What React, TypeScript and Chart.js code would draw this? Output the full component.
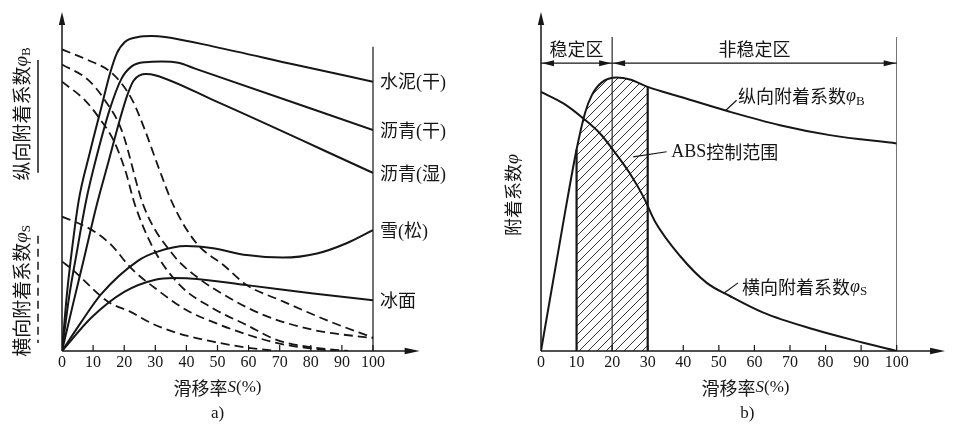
import React, { useEffect, useRef } from 'react';
import { Chart, registerables } from 'chart.js';

Chart.register(...registerables);

// ---------------- panel a) : adhesion curves on different surfaces ----------------
const slipTicks = [0, 10, 20, 30, 40, 50, 60, 70, 80, 90, 100];

// longitudinal adhesion coefficient (solid)
const concreteDryLongS = [0, 1.4, 2.8, 5.4, 8.9, 12.6, 15.5, 17.6, 20.3, 24.5, 28.8, 33.1, 49.2, 75, 100];
const concreteDryLongPhi = [0, 0.16, 0.285, 0.472, 0.618, 0.76, 0.87, 0.93, 0.967, 0.982, 0.985, 0.982, 0.951, 0.895, 0.842];
const asphaltDryLongS = [0, 2.3, 4.6, 7.8, 11.4, 15.3, 19.1, 22.4, 26.7, 32, 37.4, 42.8, 100];
const asphaltDryLongPhi = [0, 0.17, 0.3, 0.472, 0.618, 0.754, 0.851, 0.89, 0.903, 0.905, 0.901, 0.883, 0.691];
const asphaltWetLongS = [0, 3.5, 7.1, 11, 14.9, 18.5, 21, 23, 25, 27, 29.9, 49.2, 100];
const asphaltWetLongPhi = [0, 0.145, 0.29, 0.45, 0.59, 0.72, 0.8, 0.845, 0.862, 0.866, 0.8625, 0.782, 0.557];
const snowLongS = [0, 6, 12.6, 24.4, 30.5, 40, 48.6, 59.4, 71, 82, 91.5, 100];
const snowLongPhi = [0, 0.088, 0.178, 0.282, 0.31, 0.328, 0.321, 0.3, 0.292, 0.305, 0.337, 0.378];
const iceLongS = [0, 9.4, 20, 30, 36, 41, 59.4, 80.8, 100];
const iceLongPhi = [0, 0.104, 0.185, 0.223, 0.228, 0.227, 0.206, 0.18, 0.159];

// lateral adhesion coefficient (dashed)
const concreteDryLatS = [0, 8.5, 14.9, 19.2, 22.9, 26.7, 31, 35.8, 43.3, 51.9, 59.4, 70.1, 86.2, 100];
const concreteDryLatPhi = [0.943, 0.909, 0.878, 0.836, 0.779, 0.69, 0.575, 0.456, 0.336, 0.269, 0.206, 0.159, 0.092, 0.042];
const asphaltDryLatS = [0, 8.5, 13.8, 19.2, 26.3, 35.8, 43.3, 54, 64.7, 80.8, 100];
const asphaltDryLatPhi = [0.896, 0.847, 0.784, 0.69, 0.452, 0.3, 0.232, 0.165, 0.113, 0.066, 0.04];
const asphaltWetLatS = [0, 7.4, 11.7, 16.5, 20.3, 23.5, 29.4, 37.9, 48.6, 59.4, 69, 80, 92];
const asphaltWetLatPhi = [0.842, 0.784, 0.732, 0.66, 0.566, 0.456, 0.32, 0.206, 0.133, 0.081, 0.035, 0.012, 0];
const snowLatS = [0, 3, 10.5, 15.9, 22.3, 30, 40, 50, 60, 70, 80, 88];
const snowLatPhi = [0.42, 0.409, 0.373, 0.331, 0.258, 0.196, 0.128, 0.085, 0.05, 0.023, 0.008, 0];
const iceLatS = [0, 3.5, 14.8, 21.9, 28.7, 32.6, 40, 48.6, 60, 69];
const iceLatPhi = [0.28, 0.253, 0.154, 0.123, 0.087, 0.071, 0.048, 0.029, 0.01, 0];

const surfaceLabels = ['水泥(干)', '沥青(干)', '沥青(湿)', '雪(松)', '冰面'];

// ---------------- panel b) : ABS working range ----------------
const longS = [0, 6, 10, 12.4, 14.3, 17.1, 21.3, 25, 30, 39.1, 53.1, 67.2, 81.2, 100];
const longPhi = [0, 0.385, 0.63, 0.745, 0.8, 0.84, 0.855, 0.849, 0.826, 0.795, 0.748, 0.706, 0.675, 0.649];
const latS = [0, 6.3, 11.9, 16.6, 20.3, 25, 28.8, 32, 39.1, 46.6, 53.1, 62.5, 76.6, 90.6, 100];
const latPhi = [0.81, 0.774, 0.727, 0.68, 0.628, 0.555, 0.482, 0.406, 0.297, 0.213, 0.172, 0.12, 0.068, 0.026, 0];
const absRange = [10, 30];
const stableLimit = 20;

// ---------------- layout constants ----------------
const PHI_MAX = 1.06;
const INK = '#161616';
const CJK = '"Noto Sans CJK SC", sans-serif';
const SER = '"Liberation Serif", "Noto Sans CJK SC", serif';

type Part = { t: string; f: string; dy?: number };
type Pt = { x: number; y: number };

const toPts = (xs: number[], ys: number[]): Pt[] => xs.map((x, i) => ({ x, y: ys[i] }));

function partsWidth(ctx: CanvasRenderingContext2D, parts: Part[]) {
  let w = 0;
  for (const p of parts) {
    ctx.font = p.f;
    w += ctx.measureText(p.t).width;
  }
  return w;
}
function drawParts(ctx: CanvasRenderingContext2D, parts: Part[], x: number, y: number, align = 'left') {
  const w = partsWidth(ctx, parts);
  let cx = align === 'center' ? x - w / 2 : align === 'right' ? x - w : x;
  ctx.textAlign = 'left';
  ctx.textBaseline = 'middle';
  for (const p of parts) {
    ctx.font = p.f;
    ctx.fillText(p.t, cx, y + (p.dy || 0));
    cx += ctx.measureText(p.t).width;
  }
}
function drawPartsRotated(ctx: CanvasRenderingContext2D, parts: Part[], x: number, y: number) {
  ctx.save();
  ctx.translate(x, y);
  ctx.rotate(-Math.PI / 2);
  drawParts(ctx, parts, 0, 0, 'center');
  ctx.restore();
}
function segment(ctx: CanvasRenderingContext2D, x1: number, y1: number, x2: number, y2: number, w = 1, dash: number[] = []) {
  ctx.save();
  ctx.lineWidth = w;
  ctx.setLineDash(dash);
  ctx.beginPath();
  ctx.moveTo(x1, y1);
  ctx.lineTo(x2, y2);
  ctx.stroke();
  ctx.restore();
}
function arrowHead(ctx: CanvasRenderingContext2D, tx: number, ty: number, dx: number, dy: number, len = 12, half = 3.2) {
  const nx = -dy, ny = dx;
  const bx = tx - dx * len, by = ty - dy * len;
  ctx.beginPath();
  ctx.moveTo(tx, ty);
  ctx.lineTo(bx + nx * half, by + ny * half);
  ctx.lineTo(bx - nx * half, by - ny * half);
  ctx.closePath();
  ctx.fill();
}
function drawAxes(ctx: CanvasRenderingContext2D, x0: number, y0: number, yTop: number, xEnd: number) {
  segment(ctx, x0, y0, x0, yTop + 6, 1.5);
  arrowHead(ctx, x0, yTop, 0, -1, 13, 3.2);
  segment(ctx, x0, y0, xEnd - 6, y0, 1.5);
  arrowHead(ctx, xEnd, y0, 1, 0, 15, 3.2);
}
function drawTicks(ctx: CanvasRenderingContext2D, X: (v: number) => number, y0: number) {
  slipTicks.forEach((v) => {
    if (v > 0) segment(ctx, X(v), y0, X(v), y0 - 6, 1.2);
  });
  ctx.font = `16px ${SER}`;
  ctx.textAlign = 'center';
  ctx.textBaseline = 'middle';
  slipTicks.forEach((v) => ctx.fillText(String(v), X(v), y0 + 12));
}
function slipTitle(ctx: CanvasRenderingContext2D, x: number, y: number) {
  drawParts(
    ctx,
    [
      { t: '滑移率', f: `18px ${CJK}` },
      { t: 'S', f: `italic 17px "Liberation Serif"` },
      { t: '(%)', f: `17px "Liberation Serif"` },
    ],
    x,
    y,
    'center'
  );
}
const phiParts = (prefix: string, sub: string, size = 18): Part[] => [
  { t: prefix, f: `${size}px ${CJK}` },
  { t: 'φ', f: `italic ${size}px "Liberation Serif"` },
  ...(sub ? [{ t: sub, f: `${Math.round(size * 0.7)}px "Liberation Serif"`, dy: 5 }] : []),
];

const lineDs = (xs: number[], ys: number[], dashed = false) => ({
  data: toPts(xs, ys),
  borderColor: INK,
  borderWidth: dashed ? 1.8 : 2,
  borderDash: dashed ? [9, 5] : [],
  pointRadius: 0,
  fill: false,
  cubicInterpolationMode: 'monotone' as const,
});

const baseOptions = (padLeft: number, padRight: number) => ({
  responsive: false,
  animation: false as const,
  devicePixelRatio: 1,
  layout: { padding: { left: padLeft, right: padRight, top: 12, bottom: 81 } },
  plugins: { legend: { display: false }, tooltip: { enabled: false } },
  scales: {
    x: { type: 'linear' as const, min: 0, max: 100, display: false },
    y: { type: 'linear' as const, min: 0, max: PHI_MAX, display: false },
  },
});

// ---------------- panel a) ----------------
const longSets = [
  [concreteDryLongS, concreteDryLongPhi],
  [asphaltDryLongS, asphaltDryLongPhi],
  [asphaltWetLongS, asphaltWetLongPhi],
  [snowLongS, snowLongPhi],
  [iceLongS, iceLongPhi],
];
const latSets = [
  [concreteDryLatS, concreteDryLatPhi],
  [asphaltDryLatS, asphaltDryLatPhi],
  [asphaltWetLatS, asphaltWetLatPhi],
  [snowLatS, snowLatPhi],
  [iceLatS, iceLatPhi],
];

const panelAPlugin = {
  id: 'panelA',
  afterDatasetsDraw(chart: any) {
    const { ctx, chartArea } = chart;
    const xs = chart.scales.x, ys = chart.scales.y;
    const X = (v: number) => xs.getPixelForValue(v);
    const Y = (v: number) => ys.getPixelForValue(v);
    ctx.save();
    ctx.strokeStyle = INK;
    ctx.fillStyle = INK;
    drawAxes(ctx, X(0), Y(0), chartArea.top, X(115));
    segment(ctx, X(100), Y(0), X(100), Y(0.951), 1.2);
    drawTicks(ctx, X, Y(0));
    // curve labels at end of each longitudinal curve
    longSets.forEach(([, phi], i) => {
      ctx.font = `18px ${SER}`;
      ctx.textAlign = 'left';
      ctx.textBaseline = 'middle';
      ctx.fillText(surfaceLabels[i], X(100) + 7, Y(phi[phi.length - 1]) + 2);
    });
    // y titles with line-style keys
    const tx = chartArea.left - 40;
    drawPartsRotated(ctx, phiParts('纵向附着系数', 'B', 19), tx, Y(0.741));
    drawPartsRotated(ctx, phiParts('横向附着系数', 'S', 19), tx, Y(0.188));
    segment(ctx, chartArea.left - 24, Y(0.91), chartArea.left - 24, Y(0.557), 1.5);
    segment(ctx, chartArea.left - 24, Y(0.36), chartArea.left - 24, Y(0.025), 1.5, [8, 5]);
    slipTitle(ctx, X(50), Y(0) + 37);
    ctx.font = `17px "Liberation Serif"`;
    ctx.textAlign = 'center';
    ctx.textBaseline = 'middle';
    ctx.fillText('a)', X(50), Y(0) + 63);
    ctx.restore();
  },
};

const configA = () => ({
  type: 'line' as const,
  data: {
    datasets: [
      ...longSets.map(([s, p]) => lineDs(s, p)),
      ...latSets.map(([s, p]) => lineDs(s, p, true)),
    ],
  },
  options: baseOptions(62, 107),
  plugins: [panelAPlugin],
});

// ---------------- panel b) ----------------
const phiBAt = (s: number) => longPhi[longS.indexOf(s)];

const panelBPlugin = {
  id: 'panelB',
  afterDatasetsDraw(chart: any) {
    const { ctx, chartArea } = chart;
    const xs = chart.scales.x, ys = chart.scales.y;
    const X = (v: number) => xs.getPixelForValue(v);
    const Y = (v: number) => ys.getPixelForValue(v);
    ctx.save();
    ctx.strokeStyle = INK;
    ctx.fillStyle = INK;
    drawAxes(ctx, X(0), Y(0), chartArea.top, X(113.6));
    drawTicks(ctx, X, Y(0));
    // region arrows
    const ya = Y(0.9);
    segment(ctx, X(0), ya, X(stableLimit), ya, 1.2);
    segment(ctx, X(stableLimit), ya, X(100), ya, 1.2);
    arrowHead(ctx, X(0) + 1, ya, -1, 0, 12, 3);
    arrowHead(ctx, X(stableLimit) - 1, ya, 1, 0, 12, 3);
    arrowHead(ctx, X(stableLimit) + 1, ya, -1, 0, 12, 3);
    arrowHead(ctx, X(100) - 1, ya, 1, 0, 12, 3);
    ctx.font = `18px ${CJK}`;
    ctx.textAlign = 'center';
    ctx.textBaseline = 'middle';
    ctx.fillText('稳定区', X(stableLimit / 2), Y(0.945));
    ctx.fillText('非稳定区', X((stableLimit + 100) / 2), Y(0.945));
    // leaders and labels
    segment(ctx, X(51.9), Y(0.752), X(55), Y(0.784), 1.2);
    drawParts(ctx, phiParts('纵向附着系数', 'B'), X(55.4), Y(0.796));
    segment(ctx, X(25.9), Y(0.607), X(35.3), Y(0.623), 1.2);
    drawParts(ctx, [{ t: 'ABS', f: `18px "Liberation Serif"` }, { t: '控制范围', f: `18px ${CJK}` }], X(36.6), Y(0.622));
    segment(ctx, X(51.3), Y(0.18), X(55.4), Y(0.213), 1.2);
    drawParts(ctx, phiParts('横向附着系数', 'S'), X(56.5), Y(0.2));
    // y title
    drawPartsRotated(ctx, phiParts('附着系数', '', 18), chartArea.left - 28, Y(0.488));
    slipTitle(ctx, X(57.5), Y(0) + 37);
    ctx.font = `17px "Liberation Serif"`;
    ctx.textAlign = 'center';
    ctx.textBaseline = 'middle';
    ctx.fillText('b)', X(58), Y(0) + 63);
    ctx.restore();
  },
};

function makeHatch(canvas: HTMLCanvasElement) {
  const tile = document.createElement('canvas');
  tile.width = 9;
  tile.height = 9;
  const g = tile.getContext('2d')!;
  g.strokeStyle = '#333';
  g.lineWidth = 1;
  g.beginPath();
  g.moveTo(-1, 10);
  g.lineTo(10, -1);
  g.moveTo(-5, 5);
  g.lineTo(5, -5);
  g.moveTo(4, 14);
  g.lineTo(14, 4);
  g.stroke();
  return canvas.getContext('2d')!.createPattern(tile, 'repeat');
}

const configB = (canvas: HTMLCanvasElement) => {
  const hatchS = longS.filter((s) => s >= absRange[0] && s <= absRange[1]);
  const hatchPhi = hatchS.map(phiBAt);
  const vline = (s: number, top: number, w: number) => ({
    data: [{ x: s, y: 0 }, { x: s, y: top }],
    borderColor: INK,
    borderWidth: w,
    pointRadius: 0,
    fill: false,
  });
  return {
    type: 'line' as const,
    data: {
      datasets: [
        lineDs(longS, longPhi),
        lineDs(latS, latPhi),
        vline(absRange[0], phiBAt(absRange[0]), 2.2),
        vline(absRange[1], phiBAt(absRange[1]), 2.2),
        vline(stableLimit, 0.982, 1.1),
        vline(100, 0.982, 1.1),
        {
          data: toPts(hatchS, hatchPhi),
          borderWidth: 0,
          borderColor: 'rgba(0,0,0,0)',
          backgroundColor: makeHatch(canvas),
          pointRadius: 0,
          fill: 'origin',
          cubicInterpolationMode: 'monotone' as const,
        },
      ],
    },
    options: baseOptions(61, 63.3),
    plugins: [panelBPlugin],
  };
};

function Panel({ make }: { make: (c: HTMLCanvasElement) => any }) {
  const ref = useRef<HTMLCanvasElement>(null);
  useEffect(() => {
    const c = ref.current!;
    const chart = new Chart(c, make(c));
    return () => chart.destroy();
  }, []);
  return <canvas ref={ref} width={480} height={432} style={{ display: 'block', width: 480, height: 432 }} />;
}

export default function App() {
  return (
    <div style={{ position: 'fixed', left: 0, top: 0, width: 960, height: 432, background: '#fff', display: 'flex' }}>
      <Panel make={configA} />
      <Panel make={configB} />
    </div>
  );
}
